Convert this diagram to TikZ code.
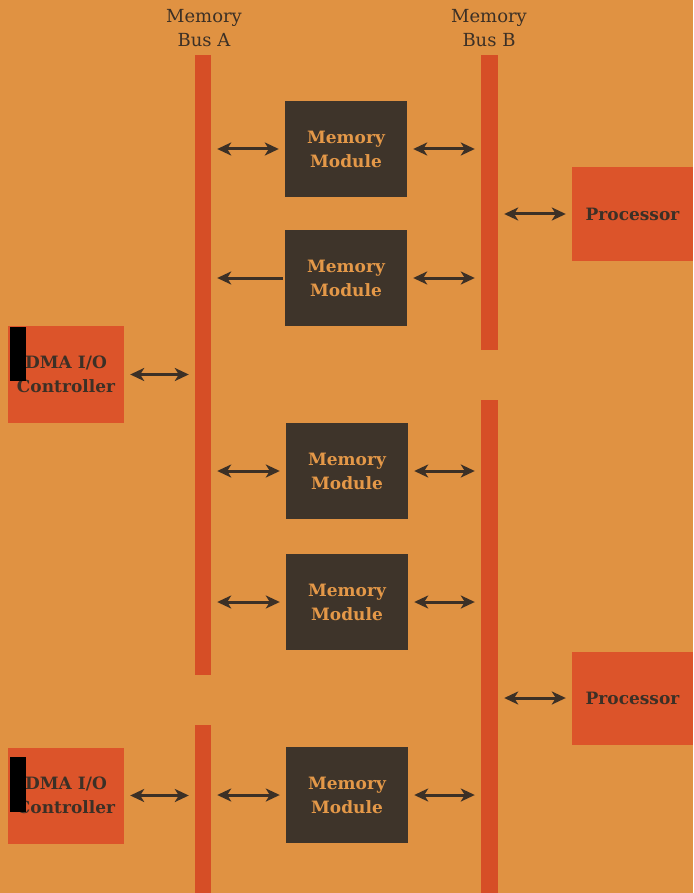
\documentclass[tikz,border=0pt]{standalone}
\usepackage{fontspec}
\setmainfont{DejaVu Serif}
\usetikzlibrary{arrows.meta}
\definecolor{bg}{RGB}{224,146,66}
\definecolor{busred}{RGB}{214,78,38}
\definecolor{procred}{RGB}{220,84,42}
\definecolor{modcol}{RGB}{62,52,42}
\definecolor{modtext}{RGB}{228,152,72}
\definecolor{ink}{RGB}{60,48,38}
\tikzset{
  bus/.style={fill=busred, draw=none, minimum width=16pt, inner sep=0pt},
  module/.style={fill=modcol, draw=none, minimum width=122pt, minimum height=96pt, inner sep=0pt,
    align=center, text=modtext, font=\fontsize{17}{24}\selectfont\bfseries},
  redbox/.style={fill=procred, draw=none, minimum width=121pt, minimum height=93pt, inner sep=0pt,
    align=center, text=ink, font=\fontsize{17}{24}\selectfont\bfseries},
  hdr/.style={align=center, text=ink, font=\fontsize{18}{24}\selectfont},
  tip/.style={},
  arr/.style={draw=ink, line width=3pt, {Stealth[length=14pt,width=13pt,inset=4pt]}-{Stealth[length=14pt,width=13pt,inset=4pt]}, shorten >=6pt, shorten <=6pt},
  arrl/.style={draw=ink, line width=3pt, -{Stealth[length=14pt,width=13pt,inset=4pt]}, shorten >=6pt, shorten <=2pt},
}
\begin{document}
\begin{tikzpicture}[x=1pt,y=-1pt]
\fill[bg] (0,0) rectangle (693,893);
\useasboundingbox (0,0) rectangle (693,893);
% buses
\node[bus, minimum height=620pt] (busA1) at (203,365) {};
\node[bus, minimum height=168pt] (busA2) at (203,809) {};
\node[bus, minimum width=17pt, minimum height=295pt] (busB1) at (489.5,202.5) {};
\node[bus, minimum width=17pt, minimum height=493pt] (busB2) at (489.5,646.5) {};
% headers
\node[hdr] (hA) at (204,28) {Memory\\Bus A};
\node[hdr] (hB) at (489,28) {Memory\\Bus B};
% modules
\node[module] (m1) at (346,149) {Memory\\Module};
\node[module] (m2) at (346,278) {Memory\\Module};
\node[module] (m3) at (347,471) {Memory\\Module};
\node[module] (m4) at (347,602) {Memory\\Module};
\node[module] (m5) at (347,795) {Memory\\Module};
% processors
\node[redbox] (p1) at (632.5,214) {Processor};
\node[redbox] (p2) at (632.5,698) {Processor};
% DMA controllers
\node[redbox, minimum width=116pt, minimum height=97pt] (d1) at (66,374.5) {DMA I/O\\Controller};
\node[redbox, minimum width=116pt, minimum height=96pt] (d2) at (66,795.5) {DMA I/O\\Controller};
\fill[black] (10,327) rectangle (26,381);
\fill[black] (10,757) rectangle (26,812);
% connectors
\draw[arr] (busA1.east |- m1) -- (m1.west);
\draw[arr] (m1.east) -- (busB1.west |- m1);
\draw[arrl] (m2.west) -- (busA1.east |- m2);
\draw[arr] (m2.east) -- (busB1.west |- m2);
\draw[arr] (busA1.east |- m3) -- (m3.west);
\draw[arr] (m3.east) -- (busB2.west |- m3);
\draw[arr] (busA1.east |- m4) -- (m4.west);
\draw[arr] (m4.east) -- (busB2.west |- m4);
\draw[arr] (busA2.east |- m5) -- (m5.west);
\draw[arr] (m5.east) -- (busB2.west |- m5);
\draw[arr] (busB1.east |- p1) -- (p1.west);
\draw[arr] (busB2.east |- p2) -- (p2.west);
\draw[arr] (d1.east) -- (busA1.west |- d1);
\draw[arr] (d2.east) -- (busA2.west |- d2);
\end{tikzpicture}
\end{document}
